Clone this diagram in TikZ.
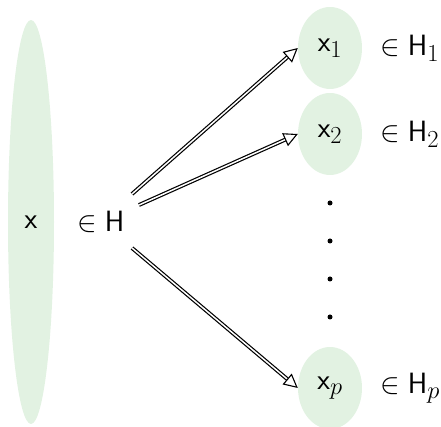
\documentclass[tikz,border=0pt]{standalone}
\usetikzlibrary{arrows.meta,shapes.geometric}
\definecolor{lg}{RGB}{226,242,226}
\newcommand\bigtxt[1]{\scalebox{1.18}{#1}}
\begin{document}
\begin{tikzpicture}[x=1pt,y=1pt,
  blob/.style={ellipse, fill=lg, inner sep=0pt},
  lbl/.style={anchor=west, inner sep=0pt},
  dbl/.style={double, line width=1.2pt, double distance=1.5pt,
    -{Triangle[open, length=14pt, width=14pt, line width=1.1pt]}, shorten >=0pt},
  dotm/.style={circle, fill=black, inner sep=0pt, minimum size=5pt}]
\useasboundingbox (0,0) rectangle (441,427);
\tikzset{every node/.append style={font=\Huge}}
\node[blob, minimum width=46, minimum height=404] (x) at (31,205) {\bigtxt{$\mathsf{x}$}};
\node[blob, minimum width=64, minimum height=82] (x1) at (330,379) {\bigtxt{$\mathsf{x}_1$}};
\node[blob, minimum width=64, minimum height=82] (x2) at (330,293) {\bigtxt{$\mathsf{x}_2$}};
\node[blob, minimum width=64, minimum height=82] (xp) at (330,39) {\bigtxt{$\mathsf{x}_p$}};
\node[lbl] (H) at (77,205) {\bigtxt{$\in \mathsf{H}$}};
\node[lbl] (H1) at (380,379) {\bigtxt{$\in \mathsf{H}_1$}};
\node[lbl] (H2) at (380,293) {\bigtxt{$\in \mathsf{H}_2$}};
\node[lbl] (Hp) at (380,39) {\bigtxt{$\in \mathsf{H}_p$}};
\coordinate (s1) at (132,233);
\coordinate (s2) at (139,222);
\coordinate (s3) at (132,179);
\draw[dbl] (s1) -- (x1.west);
\draw[dbl] (s2) -- (x2.west);
\draw[dbl] (s3) -- (xp.west);
\node[dotm] (d1) at (330,224) {};
\node[dotm] (d2) at (330,186) {};
\node[dotm] (d3) at (330,148) {};
\node[dotm] (d4) at (330,110) {};
\end{tikzpicture}
\end{document}
